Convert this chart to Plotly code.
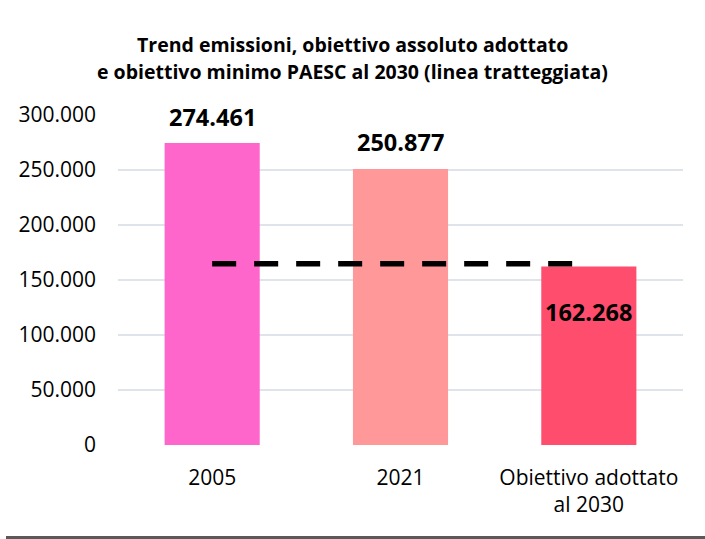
import plotly.graph_objects as go

categories = ["2005", "2021", "Obiettivo adottato<br>al 2030"]
values = [274461, 250877, 162268]
bar_colors = ["#FF66CC", "#FF9999", "#FF4D6D"]
target_min = 164677  # obiettivo minimo PAESC (linea tratteggiata)
title_lines = ["Trend emissioni, obiettivo assoluto adottato",
               "e obiettivo minimo PAESC al 2030 (linea tratteggiata)"]
label_shifts = [26, 27, -45]

FONT = "Open Sans"
pos = list(range(len(categories)))

def it_fmt(v):
    return f"{v:,}".replace(",", ".")

fig = go.Figure()
fig.add_trace(go.Bar(
    x=pos, y=values, marker=dict(color=bar_colors, line=dict(width=0)),
    hoverinfo="skip", showlegend=False,
))
fig.add_trace(go.Scatter(
    x=[pos[0], pos[2]], y=[target_min, target_min],
    mode="lines", line=dict(color="black", width=5.5, dash="24px,18px"),
    hoverinfo="skip", showlegend=False,
))

for p, v, s in zip(pos, values, label_shifts):
    fig.add_annotation(x=p, y=v, text=f"<b>{it_fmt(v)}</b>", showarrow=False,
                       yanchor="middle", yshift=s,
                       font=dict(family=FONT, size=23.5, color="black"))

for i, t in enumerate(title_lines):
    fig.add_annotation(xref="paper", yref="paper", x=(352 - 118) / 565,
                       y=(445 - (44 + 28 * i)) / 330, text=f"<b>{t}</b>",
                       showarrow=False, xanchor="center", yanchor="middle",
                       font=dict(family=FONT, size=19.5, color="black"))

fig.add_shape(type="line", xref="paper", yref="paper",
              x0=(6 - 118) / 565, x1=(705 - 118) / 565,
              y0=(445 - 537.5) / 330, y1=(445 - 537.5) / 330,
              line=dict(color="#595959", width=3))

fig.update_layout(
    width=705, height=539,
    margin=dict(l=118, r=22, t=115, b=94),
    paper_bgcolor="white", plot_bgcolor="white",
    separators=",.",
    bargap=0.495,
    font=dict(family=FONT, size=21, color="black"),
    xaxis=dict(range=[-0.5, len(categories) - 0.5], tickvals=pos, ticktext=categories,
               showgrid=False, showline=False, zeroline=False,
               ticks="", ticklabelstandoff=18, tickfont=dict(size=21)),
    yaxis=dict(range=[0, 300000], dtick=50000, tickformat=",d",
               showgrid=True, gridcolor="#DFE3EA", gridwidth=2,
               zeroline=False, showline=False, ticks="",
               ticklabelstandoff=21, tickfont=dict(size=21)),
)

fig.write_html("out.html")
